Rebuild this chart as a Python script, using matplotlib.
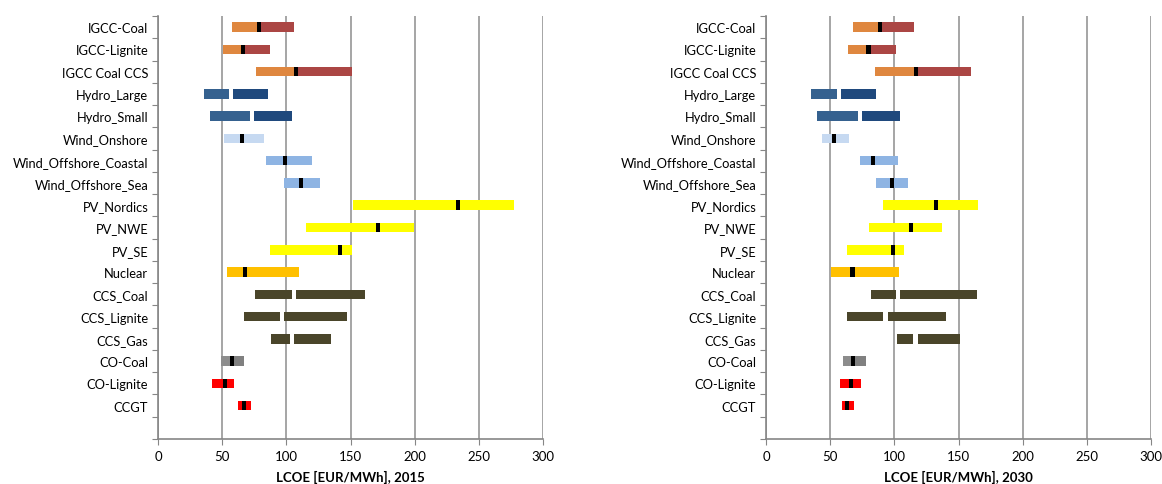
import matplotlib
matplotlib.use("Agg")
import matplotlib.pyplot as plt

categories = ["IGCC-Coal", "IGCC-Lignite", "IGCC Coal CCS", "Hydro_Large", "Hydro_Small",
              "Wind_Onshore", "Wind_Offshore_Coastal", "Wind_Offshore_Sea", "PV_Nordics",
              "PV_NWE", "PV_SE", "Nuclear", "CCS_Coal", "CCS_Lignite", "CCS_Gas",
              "CO-Coal", "CO-Lignite", "CCGT"]

# 2015: low, mid, high
low_2015 = [58, 51, 76, 36, 40.3, 51.3, 84, 98, 152, 115, 87, 54, 75.5, 67, 88, 49, 42, 62]
mid_2015 = [79, 66.3, 107.7, 57.2, 73.2, 65.4, 99, 111.4, 234, 171.5, 141.5, 67.7, 106.3, 96.5, 104.3, 57.9, 52.4, 67]
high_2015 = [106, 87, 151, 85.6, 104.3, 82.5, 120, 126, 277.6, 199.6, 151, 110, 161.3, 147.3, 134.8, 66.8, 59, 72.3]

# 2030: low, mid, high
low_2030 = [68, 64, 85, 35.4, 40, 44, 73.5, 86, 91.5, 80, 63.5, 51, 81.5, 63.5, 101.7, 60.3, 58, 59.6]
mid_2030 = [89, 79.9, 116.8, 57.2, 73.2, 52.8, 83.3, 98, 132.2, 112.7, 98.9, 67.4, 103.2, 93.1, 116.5, 67.8, 66, 63.1]
high_2030 = [115.5, 101, 160, 86.1, 104.1, 65, 102.5, 111, 165, 137.5, 107.2, 103.3, 164.2, 140, 151, 78.3, 74.4, 68.9]

color_low = ["#DF873F", "#DF873F", "#DF873F", "#35618F", "#35618F", "#C6D9F1", "#8EB4E3", "#8EB4E3",
             "#FFFF00", "#FFFF00", "#FFFF00", "#FFC000", "#4A452A", "#4A452A", "#4A452A",
             "#8C8C8C", "#FF0000", "#FF0000"]
color_high = ["#AB4644", "#AB4644", "#AB4644", "#1F497D", "#1F497D", "#C6D9F1", "#8EB4E3", "#8EB4E3",
              "#FFFF00", "#FFFF00", "#FFFF00", "#FFC000", "#4A452A", "#4A452A", "#4A452A",
              "#808080", "#FF0000", "#FF0000"]
marker_color = ["black", "black", "black", "white", "white", "black", "black", "black",
                "black", "black", "black", "black", "white", "white", "white",
                "black", "black", "black"]

plt.rcParams['font.family'] = ['Lato', 'DejaVu Sans']

fig = plt.figure(figsize=(11.62, 4.85), dpi=100)
ax1 = fig.add_axes([158/1162, 1-440/485, 385/1162, 423/485])
ax2 = fig.add_axes([766/1162, 1-440/485, 385/1162, 423/485])

n = len(categories)
ypos = [n - i for i in range(n)]
H = 0.43
MW = 3.2


def draw(ax, low, mid, high, xlabel):
    for y, lo, md, hi, c1, c2, mc in zip(ypos, low, mid, high, color_low, color_high, marker_color):
        ax.barh(y, md - lo, left=lo, height=H, color=c1, zorder=3, linewidth=0)
        ax.barh(y, hi - md, left=md, height=H, color=c2, zorder=3, linewidth=0)
        ax.barh(y, MW, left=md - MW / 2, height=H, color=mc, zorder=4, linewidth=0)
    ax.set_xlim(0, 300)
    ax.set_ylim(-0.5, n + 0.5)
    ax.set_xticks(range(0, 301, 50))
    ax.xaxis.grid(True, color="#969696", linewidth=1.2, zorder=0)
    ax.set_axisbelow(True)
    ax.set_yticks([k + 0.5 for k in range(-1, n + 1)])
    ax.set_yticklabels([])
    ax.set_yticks(ypos, minor=True)
    ax.set_yticklabels(categories, minor=True, fontsize=9.3)
    ax.tick_params(axis='y', which='minor', length=0, pad=7)
    ax.tick_params(axis='y', which='major', length=4, color="#868686", direction='out')
    ax.tick_params(axis='x', length=4, color="#868686", labelsize=9.5, pad=4)
    for s in ["top", "right"]:
        ax.spines[s].set_visible(False)
    for s in ["left", "bottom"]:
        ax.spines[s].set_color("#868686")
        ax.spines[s].set_linewidth(1.2)
    ax.set_xlabel(xlabel, fontsize=9.5, fontweight='bold', labelpad=6)


draw(ax1, low_2015, mid_2015, high_2015, "LCOE [EUR/MWh], 2015")
draw(ax2, low_2030, mid_2030, high_2030, "LCOE [EUR/MWh], 2030")

fig.savefig("out.png", dpi=100)
